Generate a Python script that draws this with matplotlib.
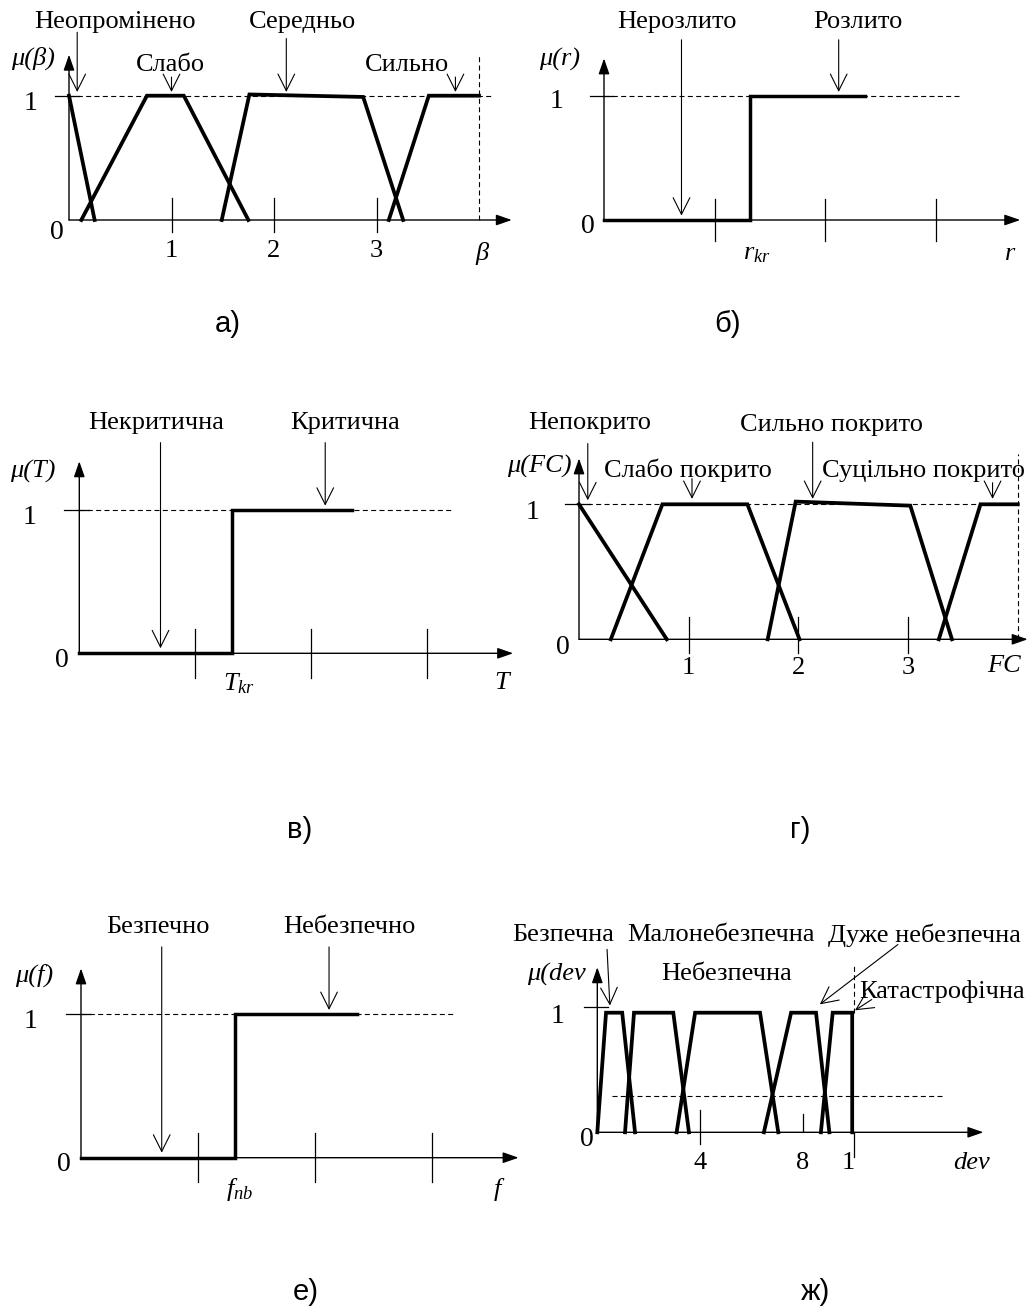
import matplotlib
matplotlib.use("Agg")
import matplotlib.pyplot as plt

plt.rcParams['font.family'] = 'Liberation Serif'
plt.rcParams['mathtext.fontset'] = 'custom'
plt.rcParams['mathtext.it'] = 'Liberation Serif:italic'
plt.rcParams['mathtext.rm'] = 'Liberation Serif'

# а) ступінь опромінення beta
beta_names = ['Неопромінено', 'Слабо', 'Середньо', 'Сильно']
beta_x = [[0, 0.25], [0.12, 0.76, 1.12, 1.75], [1.49, 1.76, 2.87, 3.26], [3.12, 3.51, 4.0]]
beta_mu = [[1, 0], [0, 1, 1, 0], [0, 1.01, 0.99, 0], [0, 1, 1]]
beta_ticks = [1, 2, 3]

# б) розлив r
r_names = ['Нерозлито', 'Розлито']
r_x = [0, 1.32, 1.32, 2.36]
r_mu = [0, 0, 1, 1]

# в) температура T
t_names = ['Некритична', 'Критична']
t_x = [0, 1.32, 1.32, 2.35]
t_mu = [0, 0, 1, 1]

# г) покриття FC
fc_names = ['Непокрито', 'Слабо покрито', 'Сильно покрито', 'Суцільно покрито']
fc_x = [[0, 0.80], [0.29, 0.76, 1.535, 2.01], [1.72, 1.975, 3.02, 3.40], [3.28, 3.66, 4.0]]
fc_mu = [[1, 0], [0, 1, 1, 0], [0, 1.02, 0.99, 0], [0, 1, 1]]
fc_ticks = [1, 2, 3]

# е) небезпека f
f_names = ['Безпечно', 'Небезпечно']
f_x = [0, 1.32, 1.32, 2.36]
f_mu = [0, 0, 1, 1]

# ж) відхилення dev
dev_names = ['Безпечна', 'Малонебезпечна', 'Небезпечна', 'Дуже небезпечна', 'Катастрофічна']
dev_x = [[0, 0.34, 0.97, 1.47], [1.08, 1.43, 2.96, 3.57], [3.09, 3.81, 6.34, 7.05],
         [6.49, 7.55, 8.52, 9.04], [8.71, 9.17, 9.93, 9.93]]
dev_mu = [[0, 1, 1, 0], [0, 1, 1, 0], [0, 1, 1, 0], [0, 1, 1, 0], [0, 1, 1, 0]]
dev_ticks = [4, 8, 10]
dev_ticklabels = ['4', '8', '1']
dev_level = 0.306

W, H = 1031, 1309
fig = plt.figure(figsize=(W / 100, H / 100), dpi=100)
FS = 19
DASH = (0, (4.5, 3))


def panel(ox, oy, ux, uy, xlim, ylim):
    left = (ox + xlim[0] * ux) / W
    width = (xlim[1] - xlim[0]) * ux / W
    bottom = (H - (oy - ylim[0] * uy)) / H
    height = (ylim[1] - ylim[0]) * uy / H
    ax = fig.add_axes([left, bottom, width, height])
    ax.set_xlim(xlim)
    ax.set_ylim(ylim)
    ax.axis('off')
    return ax


def axes_arrows(ax, xend, ytop):
    st = '-|>,head_length=0.95,head_width=0.33'
    for tip in [(xend, 0), (0, ytop)]:
        ax.annotate('', xy=tip, xytext=(0, 0),
                    arrowprops=dict(arrowstyle=st, lw=1.0, color='k', fc='k',
                                    mutation_scale=10, shrinkA=0, shrinkB=0))


def pointer(ax, x0, y0, x1, y1):
    ax.annotate('', xy=(x1, y1), xytext=(x0, y0),
                arrowprops=dict(arrowstyle='->,head_length=1.2,head_width=0.6', lw=0.8,
                                color='k', mutation_scale=10, shrinkA=0, shrinkB=0))


def level_one(ax, x0, x1, dash_end, ux):
    ax.plot([x0, x1], [1, 1], color='k', lw=0.9)
    ax.plot([0, dash_end], [1, 1], color='k', lw=0.8, linestyle=DASH)


# ---------------- а)
ax = panel(69, 220, 102.5, 124.3, (-0.7, 4.5), (-0.45, 1.75))
axes_arrows(ax, 4.32, 1.33)
level_one(ax, -0.14, 0.1, 4.12, 102.5)
ax.plot([4, 4], [0, 1.33], color='k', lw=0.8, linestyle=DASH)
for xs, ms in zip(beta_x, beta_mu):
    ax.plot(xs, ms, color='k', lw=2.7, solid_joinstyle='miter')
for t in beta_ticks:
    ax.plot([t, t], [0.18, -0.10], color='k', lw=0.9)
    ax.text(t, -0.25, str(t), fontsize=FS, ha='center', va='center')
ax.text(-0.35, 1.30, 'μ(β)', fontsize=FS, style='italic', ha='center', va='center')
ax.text(-0.38, 0.94, '1', fontsize=FS + 1, ha='center', va='center')
ax.text(-0.12, -0.10, '0', fontsize=FS + 1, ha='center', va='center')
ax.text(4.03, -0.27, 'β', fontsize=FS, style='italic', ha='center', va='center')
ax.text(0.45, 1.59, beta_names[0], fontsize=FS, ha='center', va='center')
ax.text(0.985, 1.25, beta_names[1], fontsize=FS, ha='center', va='center')
ax.text(2.28, 1.59, beta_names[2], fontsize=FS, ha='center', va='center')
ax.text(3.30, 1.25, beta_names[3], fontsize=FS, ha='center', va='center')
pointer(ax, 0.08, 1.51, 0.08, 1.03)
pointer(ax, 1.0, 1.15, 1.0, 1.03)
pointer(ax, 2.12, 1.46, 2.12, 1.03)
pointer(ax, 3.77, 1.15, 3.77, 1.03)


def step_panel(ox, oy, ux, uy, xs, ms, names, var, crit, xcrit, ycrit,
               xvar, ymu_label, mu_text, arrow1_x, arrow2_x, xend, ytop, dash_end, text_y):
    ax = panel(ox, oy, ux, uy, (-0.7, 4.0), (-0.45, 1.75))
    axes_arrows(ax, xend, ytop)
    level_one(ax, -0.13, 0.08, dash_end, ux)
    ax.plot(xs, ms, color='k', lw=2.5, solid_joinstyle='miter')
    for t in [1, 2, 3]:
        ax.plot([t, t], [0.17, -0.17], color='k', lw=0.9)
    ax.text(-0.40, ymu_label, mu_text, fontsize=FS, style='italic', ha='center', va='center')
    ax.text(-0.43, 0.95, '1', fontsize=FS + 1, ha='center', va='center')
    ax.text(-0.15, -0.05, '0', fontsize=FS + 1, ha='center', va='center')
    ax.text(xcrit, ycrit, crit, fontsize=FS, ha='center', va='center')
    ax.text(xvar, ycrit, var, fontsize=FS, style='italic', ha='center', va='center')
    ax.text(0.66, text_y, names[0], fontsize=FS, ha='center', va='center')
    ax.text(2.29, text_y, names[1], fontsize=FS, ha='center', va='center')
    pointer(ax, arrow1_x, text_y - 0.14, arrow1_x, 0.035)
    pointer(ax, arrow2_x, text_y - 0.14, arrow2_x, 1.03)
    return ax


# ---------------- б)
step_panel(604, 220, 110.7, 124.3, r_x, r_mu, r_names, 'r', '$r_{kr}$', 1.38, -0.27,
           3.67, 1.29, 'μ(r)', 0.70, 2.12, 3.76, 1.30, 3.22, 1.59)

# ---------------- в)
step_panel(79.3, 653.3, 116, 143.3, t_x, t_mu, t_names, 'T', '$T_{kr}$', 1.38, -0.21,
           3.64, 1.27, 'μ(T)', 0.70, 2.12, 3.74, 1.34, 3.22, 1.61)

# ---------------- е)
step_panel(81, 1157.7, 117, 143.4, f_x, f_mu, f_names, 'f', '$f_{nb}$', 1.36, -0.22,
           3.56, 1.27, 'μ(f)', 0.69, 2.12, 3.74, 1.32, 3.20, 1.61)

# ---------------- г)
ax = panel(579, 639.3, 109.7, 135, (-0.75, 4.2), (-0.45, 1.75))
axes_arrows(ax, 4.09, 1.34)
level_one(ax, -0.13, 0.1, 4.0, 109.7)
ax.plot([4, 4], [0, 1.37], color='k', lw=0.8, linestyle=DASH)
for xs, ms in zip(fc_x, fc_mu):
    ax.plot(xs, ms, color='k', lw=2.7, solid_joinstyle='miter')
for t in fc_ticks:
    ax.plot([t, t], [0.165, -0.10], color='k', lw=0.9)
    ax.text(t, -0.21, str(t), fontsize=FS, ha='center', va='center')
ax.text(-0.36, 1.28, 'μ(FC)', fontsize=FS, style='italic', ha='center', va='center')
ax.text(-0.42, 0.94, '1', fontsize=FS + 1, ha='center', va='center')
ax.text(-0.15, -0.06, '0', fontsize=FS + 1, ha='center', va='center')
ax.text(3.87, -0.20, 'FC', fontsize=FS, style='italic', ha='center', va='center')
ax.text(0.10, 1.60, fc_names[0], fontsize=FS, ha='center', va='center')
ax.text(0.99, 1.25, fc_names[1], fontsize=FS, ha='center', va='center')
ax.text(2.30, 1.59, fc_names[2], fontsize=FS, ha='center', va='center')
ax.text(3.14, 1.25, fc_names[3], fontsize=FS, ha='center', va='center')
pointer(ax, 0.08, 1.45, 0.08, 1.03)
pointer(ax, 1.03, 1.19, 1.03, 1.04)
pointer(ax, 2.13, 1.46, 2.13, 1.04)
pointer(ax, 3.77, 1.16, 3.77, 1.04)

# ---------------- ж)
ax = panel(597.3, 1132.3, 25.67, 119.6, (-2.5, 16.5), (-0.45, 1.8))
axes_arrows(ax, 15.04, 1.38)
ax.plot([-0.52, 0.43], [1.05, 1.05], color='k', lw=0.9)
ax.plot([0.56, 13.48], [dev_level, dev_level], color='k', lw=0.8, linestyle=DASH)
ax.plot([10, 10], [1.0, 1.40], color='k', lw=0.8, linestyle=DASH)
for xs, ms in zip(dev_x, dev_mu):
    ax.plot(xs, ms, color='k', lw=2.7, solid_joinstyle='miter')
ax.plot([4, 4], [0.19, -0.10], color='k', lw=0.9)
ax.plot([8, 8], [0.15, 0], color='k', lw=0.9)
ax.plot([10, 10], [0, -0.21], color='k', lw=0.9)
for t, lab in zip(dev_ticks, dev_ticklabels):
    ax.text(t - (0.23 if t == 10 else 0), -0.26, lab, fontsize=FS, ha='center', va='center')
ax.text(-1.58, 1.32, 'μ(dev', fontsize=FS, style='italic', ha='center', va='center')
ax.text(-1.53, 0.97, '1', fontsize=FS + 1, ha='center', va='center')
ax.text(-0.41, -0.06, '0', fontsize=FS + 1, ha='center', va='center')
ax.text(14.58, -0.26, 'dev', fontsize=FS, style='italic', ha='center', va='center')
ax.text(-1.34, 1.65, dev_names[0], fontsize=FS, ha='center', va='center')
ax.text(4.81, 1.65, dev_names[1], fontsize=FS, ha='center', va='center')
ax.text(5.04, 1.32, dev_names[2], fontsize=FS, ha='center', va='center')
ax.text(12.76, 1.65, dev_names[3], fontsize=FS, ha='center', va='center')
ax.text(13.42, 1.18, dev_names[4], fontsize=FS, ha='center', va='center')
pointer(ax, 0.38, 1.53, 0.49, 1.06)
pointer(ax, 11.71, 1.57, 8.67, 1.07)
pointer(ax, 10.69, 1.11, 10.04, 1.02)

# підписи панелей
for lab, (px, py) in zip(['а)', 'б)', 'в)', 'г)', 'е)', 'ж)'],
                         [(228, 324), (728, 324), (300, 830), (800, 830), (306, 1292), (815, 1292)]):
    fig.text(px / W, 1 - py / H, lab, fontsize=21, family='Liberation Sans', ha='center', va='center')

fig.savefig('out.png', dpi=100)
